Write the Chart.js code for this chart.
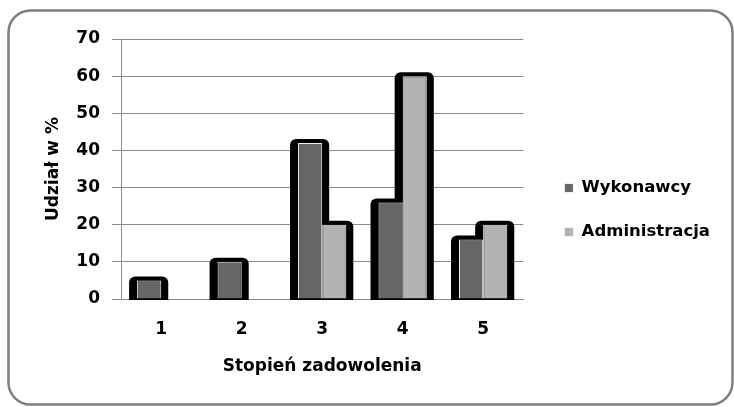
<!DOCTYPE html>
<html>
<head>
<meta charset="utf-8">
<script src="https://cdn.jsdelivr.net/npm/chart.js@4/dist/chart.umd.min.js"></script>
<style>
  html, body { margin: 0; padding: 0; background: #fff; }
  canvas { display: block; }
</style>
</head>
<body>
<canvas id="chart" width="734" height="407"></canvas>
<script>
// Survey results: share of answers (%) per satisfaction level
const categories = ['1', '2', '3', '4', '5'];
const wykonawcy = [5, 10, 42, 26, 16];
const administracja = [0, 0, 20, 60, 20];
const yTickValues = [0, 10, 20, 30, 40, 50, 60, 70];
const seriesNames = ['Wykonawcy', 'Administracja'];
const xTitle = 'Stopień zadowolenia';
const yTitle = 'Udział w %';

const FONT = 'DejaVu Sans, Verdana, sans-serif';
const GRID = '#8c8c8c';

// Black rounded backing drawn behind every non-empty bar
const barBacking = {
  id: 'barBacking',
  beforeDatasetsDraw(chart) {
    const ctx = chart.ctx;
    ctx.save();
    ctx.fillStyle = '#000';
    chart.data.datasets.forEach((ds, di) => {
      const meta = chart.getDatasetMeta(di);
      meta.data.forEach((bar, i) => {
        if (!ds.data[i]) return;
        const { x, y, base, width } = bar.getProps(['x', 'y', 'base', 'width'], true);
        const l = x - width / 2 - 8;
        const r = x + width / 2 + 7;
        const t = y - 4;
        const b = base + 1.5;
        ctx.beginPath();
        ctx.roundRect(l, t, r - l, b - t, [6, 6, 0, 0]);
        ctx.fill();
      });
    });
    ctx.restore();
  }
};

// White page with a rounded grey frame
const frame = {
  id: 'frame',
  beforeDraw(chart) {
    const ctx = chart.ctx;
    ctx.save();
    ctx.fillStyle = '#fff';
    ctx.fillRect(0, 0, chart.width, chart.height);
    ctx.strokeStyle = '#7f7f7f';
    ctx.lineWidth = 2.5;
    ctx.beginPath();
    ctx.roundRect(8.5, 10.5, 724, 394, 22);
    ctx.stroke();
    ctx.restore();
  }
};

new Chart(document.getElementById('chart'), {
  type: 'bar',
  data: {
    labels: categories,
    datasets: [
      {
        label: seriesNames[0],
        data: wykonawcy,
        backgroundColor: '#666666',
        borderColor: '#f2f2f2',
        borderWidth: 1,
        categoryPercentage: 0.6,
        barPercentage: 1.0
      },
      {
        label: seriesNames[1],
        data: administracja,
        backgroundColor: '#b3b3b3',
        borderColor: '#f2f2f2',
        borderWidth: 1,
        categoryPercentage: 0.6,
        barPercentage: 1.0
      }
    ]
  },
  options: {
    responsive: false,
    devicePixelRatio: 1,
    animation: false,
    layout: { padding: { top: 39, bottom: 26, left: 0, right: 14 } },
    plugins: {
      tooltip: { enabled: false },
      legend: {
        position: 'right',
        align: 'center',
        maxWidth: 300,
        labels: {
          boxWidth: 9,
          boxHeight: 9,
          padding: 27.5,
          color: '#000',
          font: { family: FONT, size: 16.5, weight: 'bold' }
        }
      }
    },
    scales: {
      x: {
        afterFit(s) { s.height = 82; },
        grid: { display: false },
        border: { display: true, color: GRID, width: 1 },
        ticks: {
          color: '#000',
          padding: 12,
          font: { family: FONT, size: 17, weight: 'bold' }
        },
        title: {
          display: true,
          text: xTitle,
          color: '#000',
          font: { family: FONT, size: 17, weight: 'bold' },
          padding: { top: 0, bottom: 4 }
        }
      },
      y: {
        min: 0,
        max: 70,
        afterFit(s) { s.width = 121; },
        afterBuildTicks(s) { s.ticks = yTickValues.map(v => ({ value: v })); },
        grid: { color: GRID, lineWidth: 1, tickLength: 9, tickColor: GRID },
        border: { display: true, color: GRID, width: 1 },
        ticks: {
          color: '#000',
          padding: 12,
          font: { family: FONT, size: 17, weight: 'bold' }
        },
        title: {
          display: true,
          text: yTitle,
          color: '#000',
          font: { family: FONT, size: 17, weight: 'bold' },
          padding: { top: 43, bottom: 0 }
        }
      },
      gap: {
        type: 'linear',
        position: 'right',
        display: true,
        afterFit(s) { s.width = 13.5; },
        grid: { display: false },
        border: { display: false },
        ticks: { display: false }
      }
    }
  },
  plugins: [frame, barBacking]
});
</script>
</body>
</html>
